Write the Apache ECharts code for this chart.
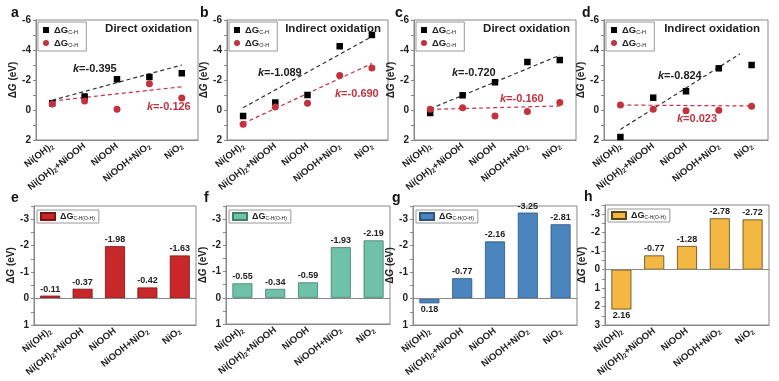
<!DOCTYPE html>
<html><head><meta charset="utf-8">
<script src="https://cdn.jsdelivr.net/npm/echarts@6/dist/echarts.min.js"></script>
<style>html,body{margin:0;padding:0;background:#fff}#c{width:779px;height:381px}</style>
</head><body><div id="c"></div>
<script>
const categories = ['Ni(OH)2','Ni(OH)2+NiOOH','NiOOH','NiOOH+NiO2','NiO2'];
// top panels: C-H and O-H dehydrogenation energies (eV)
const aCH = [-0.45, -0.9, -2.05, -2.2, -2.45];
const aOH = [-0.4, -0.6, -0.05, -1.75, -0.8];
const bCH = [0.4, -0.5, -1.0, -4.25, -5.0];
const bOH = [0.95, -0.2, -0.45, -2.3, -2.8];
const cCH = [0.2, -0.98, -1.85, -3.2, -3.33];
const cOH = [-0.05, -0.15, 0.4, 0.1, -0.5];
const dCH = [1.8, -0.82, -1.25, -2.78, -3.0];
const dOH = [-0.33, -0.05, 0.05, 0.02, -0.25];
// fitted trend lines [x index, value]
const aFitCH = [[0, -0.65], [4, -3.0]];
const aFitOH = [[0, -0.6], [4, -1.55]];
const bFitCH = [[0, -0.15], [4, -4.9]];
const bFitOH = [[0, 0.9], [4, -3.1]];
const cFitCH = [[0, -0.08], [4, -3.65]];
const cFitOH = [[0, -0.04], [4, -0.27]];
const dFitCH = [[0, 1.3], [3.65, -3.75]];
const dFitOH = [[0, -0.33], [4, -0.27]];
const slopes = ['k=-0.395','k=-0.126','k=-1.089','k=-0.690','k=-0.720','k=-0.160','k=-0.824','k=0.023'];
// bottom panels
const eBar = [-0.11, -0.37, -1.98, -0.42, -1.63];
const fBar = [-0.55, -0.34, -0.59, -1.93, -2.19];
const gBar = [0.18, -0.77, -2.16, -3.25, -2.81];
const hBar = [2.16, -0.77, -1.28, -2.78, -2.72];

const FONT = 'Liberation Sans, Arial, sans-serif';
const TXT = '#222';
const RED = '#c23340';
const catFmt = s => s.replace(/2/g, '{s|2}');
const subRich = {s: {fontSize: 6.5, fontWeight: 'bold', color: TXT, padding: [5, 0, 0, 0], fontFamily: FONT}};

const grids = [], xAxes = [], yAxes = [], series = [], legends = [], graphics = [];

function catAxis(gi) {
  return {type: 'category', gridIndex: gi, data: categories, boundaryGap: true, position: 'bottom',
    axisLine: {onZero: false, lineStyle: {color: '#888'}},
    axisTick: {alignWithLabel: true, length: 3, lineStyle: {color: '#888'}},
    axisLabel: {rotate: 38, fontSize: 9.5, fontWeight: 'bold', color: TXT, fontFamily: FONT, margin: 5,
      interval: 0, formatter: catFmt, rich: subRich}};
}
function yAx(gi, min, max, labelSet, gap) {
  return {type: 'value', gridIndex: gi, inverse: true, min: min, max: max, interval: labelSet.step, position: 'left',
    name: '{a|Δ}{b|G}{a| (eV)}', nameLocation: 'middle', nameGap: gap,
    nameTextStyle: {rich: {a: {fontSize: 10, fontWeight: 'bold', color: TXT, fontFamily: FONT},
                           b: {fontSize: 10, fontWeight: 'bold', fontStyle: 'italic', color: TXT, fontFamily: FONT}}},
    axisLine: {show: true, onZero: false, lineStyle: {color: '#888'}},
    axisTick: {show: true, length: 3, lineStyle: {color: '#888'}},
    splitLine: {show: false},
    axisLabel: {fontSize: 10, fontWeight: 'bold', color: TXT, fontFamily: FONT, margin: 5,
      formatter: v => (labelSet.show(v) ? String(v) : '')}};
}

const topCfg = [
  {L: 'a', left: 36, width: 162, ch: aCH, oh: aOH, fch: aFitCH, foh: aFitOH, title: 'Direct oxidation', tx: 192, letterX: 11,
   k1: [73, 69], k2: [147, 107]},
  {L: 'b', left: 227, width: 161, ch: bCH, oh: bOH, fch: bFitCH, foh: bFitOH, title: 'Indirect oxidation', tx: 381, letterX: 200,
   k1: [258, 73], k2: [335, 94]},
  {L: 'c', left: 414, width: 162, ch: cCH, oh: cOH, fch: cFitCH, foh: cFitOH, title: 'Direct oxidation', tx: 570, letterX: 395,
   k1: [452, 73], k2: [500, 99]},
  {L: 'd', left: 604, width: 164, ch: dCH, oh: dOH, fch: dFitCH, foh: dFitOH, title: 'Indirect oxidation', tx: 760, letterX: 582,
   k1: [658, 76], k2: [677, 119]}
];

topCfg.forEach((p, i) => {
  const gi = grids.length;
  grids.push({left: p.left, top: 20, width: p.width, height: 120, show: true, borderColor: '#888', borderWidth: 1, backgroundColor: 'transparent'});
  xAxes.push(catAxis(gi));
  const vx = xAxes.length;
  xAxes.push({type: 'value', gridIndex: gi, min: -0.5, max: 4.5, show: false, axisLine: {onZero: false}});
  yAxes.push(yAx(gi, -6, 2, {step: 1, show: v => v % 2 === 0}, 14));
  const nCH = p.L + '-CH', nOH = p.L + '-OH';
  series.push({type: 'line', xAxisIndex: vx, yAxisIndex: gi, data: p.fch, symbol: 'none', silent: true,
    lineStyle: {type: [4, 3], color: '#333', width: 1.2}, z: 2});
  series.push({type: 'line', xAxisIndex: vx, yAxisIndex: gi, data: p.foh, symbol: 'none', silent: true,
    lineStyle: {type: [4, 3], color: RED, width: 1.2}, z: 2});
  series.push({name: nCH, type: 'scatter', xAxisIndex: vx, yAxisIndex: gi, symbol: 'rect', symbolSize: 6.5,
    itemStyle: {color: '#000', opacity: 1}, data: p.ch.map((v, j) => [j, v]), z: 3});
  series.push({name: nOH, type: 'scatter', xAxisIndex: vx, yAxisIndex: gi, symbol: 'circle', symbolSize: 7,
    itemStyle: {color: RED, opacity: 1}, data: p.oh.map((v, j) => [j, v]), z: 4});
  legends.push({data: [{name: nCH, icon: 'rect'}, {name: nOH, icon: 'circle'}], orient: 'vertical',
    left: p.left + 2, top: 22, itemWidth: 6, itemHeight: 6, itemGap: 3, padding: [3, 8, 3, 5],
    borderColor: '#999', borderWidth: 1, selectedMode: false,
    formatter: n => '{d|ΔG}{s|' + (n.endsWith('CH') ? 'C-H' : 'O-H') + '}',
    textStyle: {rich: {d: {fontSize: 9.5, fontWeight: 'bold', color: TXT, fontFamily: FONT},
                       s: {fontSize: 5.5, color: TXT, padding: [4, 0, 0, 0], fontFamily: FONT}}}});
  graphics.push({type: 'text', x: p.tx, y: 29, style: {text: p.title, fontSize: 11.5, fontWeight: 'bold', fill: TXT,
    fontFamily: FONT, textAlign: 'right', textVerticalAlign: 'middle'}});
  graphics.push({type: 'text', x: p.letterX, y: 13, style: {text: p.L, fontSize: 14, fontWeight: 'bold', fill: '#111',
    fontFamily: FONT, textVerticalAlign: 'middle'}});
  [[p.k1, slopes[2 * i], '#222'], [p.k2, slopes[2 * i + 1], RED]].forEach(([pos, t, col]) => {
    graphics.push({type: 'text', x: pos[0], y: pos[1], style: {
      text: '{k|k}{t|' + t.slice(1) + '}', textVerticalAlign: 'middle',
      rich: {k: {fontSize: 11, fontWeight: 'bold', fontStyle: 'italic', fill: col, fontFamily: FONT},
             t: {fontSize: 11, fontWeight: 'bold', fill: col, fontFamily: FONT}}}});
  });
});

const botCfg = [
  {L: 'e', left: 34, width: 162, top: 206, height: 119, data: eBar, min: -3.5, max: 1, color: '#c8282a', border: '#7a1414', letterX: 11},
  {L: 'f', left: 226, width: 164, top: 206, height: 118, data: fBar, min: -3.5, max: 1, color: '#6fc1a8', border: '#3f7f6c', letterX: 204},
  {L: 'g', left: 413, width: 164, top: 206, height: 119, data: gBar, min: -3.5, max: 1, color: '#4a86bd', border: '#2a557f', letterX: 392},
  {L: 'h', left: 605, width: 164, top: 205, height: 120, data: hBar, min: -3.5, max: 3, color: '#f2b843', border: '#5a4416', letterX: 584}
];
botCfg.forEach(p => {
  const gi = grids.length;
  grids.push({left: p.left, top: p.top, width: p.width, height: p.height, show: true, borderColor: '#888', borderWidth: 1, backgroundColor: 'transparent'});
  const cx = xAxes.length;
  xAxes.push(catAxis(gi));
  yAxes.push(yAx(gi, p.min, p.max, {step: 0.5, show: v => Number.isInteger(v)}, 17));
  const name = p.L + '-bar';
  series.push({name: name, type: 'bar', xAxisIndex: cx, yAxisIndex: gi, barWidth: 20,
    itemStyle: {color: p.color, borderColor: p.border, borderWidth: 0.8},
    data: p.data.map(v => ({value: v, label: {position: v < 0 ? 'top' : 'bottom'}})),
    label: {show: true, fontSize: 9, fontWeight: 'bold', color: TXT, fontFamily: FONT, distance: 2,
      formatter: d => d.value.toFixed(2)},
    markLine: {silent: true, symbol: ['none', 'none'], label: {show: false},
      lineStyle: {color: '#888', type: 'solid', width: 1}, data: [{yAxis: 0}]}});
  legends.push({data: [{name: name, icon: 'rect'}], left: p.left + 3, top: p.top + 4, itemWidth: 14, itemHeight: 7,
    padding: [2, 4, 2, 3], borderColor: '#999', borderWidth: 1, selectedMode: false,
    formatter: () => '{d|ΔG}{s|C-H(O-H)}',
    textStyle: {rich: {d: {fontSize: 9, fontWeight: 'bold', color: TXT, fontFamily: FONT},
                       s: {fontSize: 5, color: TXT, padding: [4, 0, 0, 0], fontFamily: FONT}}}});
  graphics.push({type: 'text', x: p.letterX, y: p.top - 8, style: {text: p.L, fontSize: 14, fontWeight: 'bold', fill: '#111',
    fontFamily: FONT, textVerticalAlign: 'middle'}});
});

const chart = echarts.init(document.getElementById('c'), null, {renderer: 'canvas'});
chart.setOption({
  animation: false,
  backgroundColor: '#fff',
  textStyle: {fontFamily: FONT},
  grid: grids, xAxis: xAxes, yAxis: yAxes, series: series, legend: legends, graphic: graphics
});
</script></body></html>
